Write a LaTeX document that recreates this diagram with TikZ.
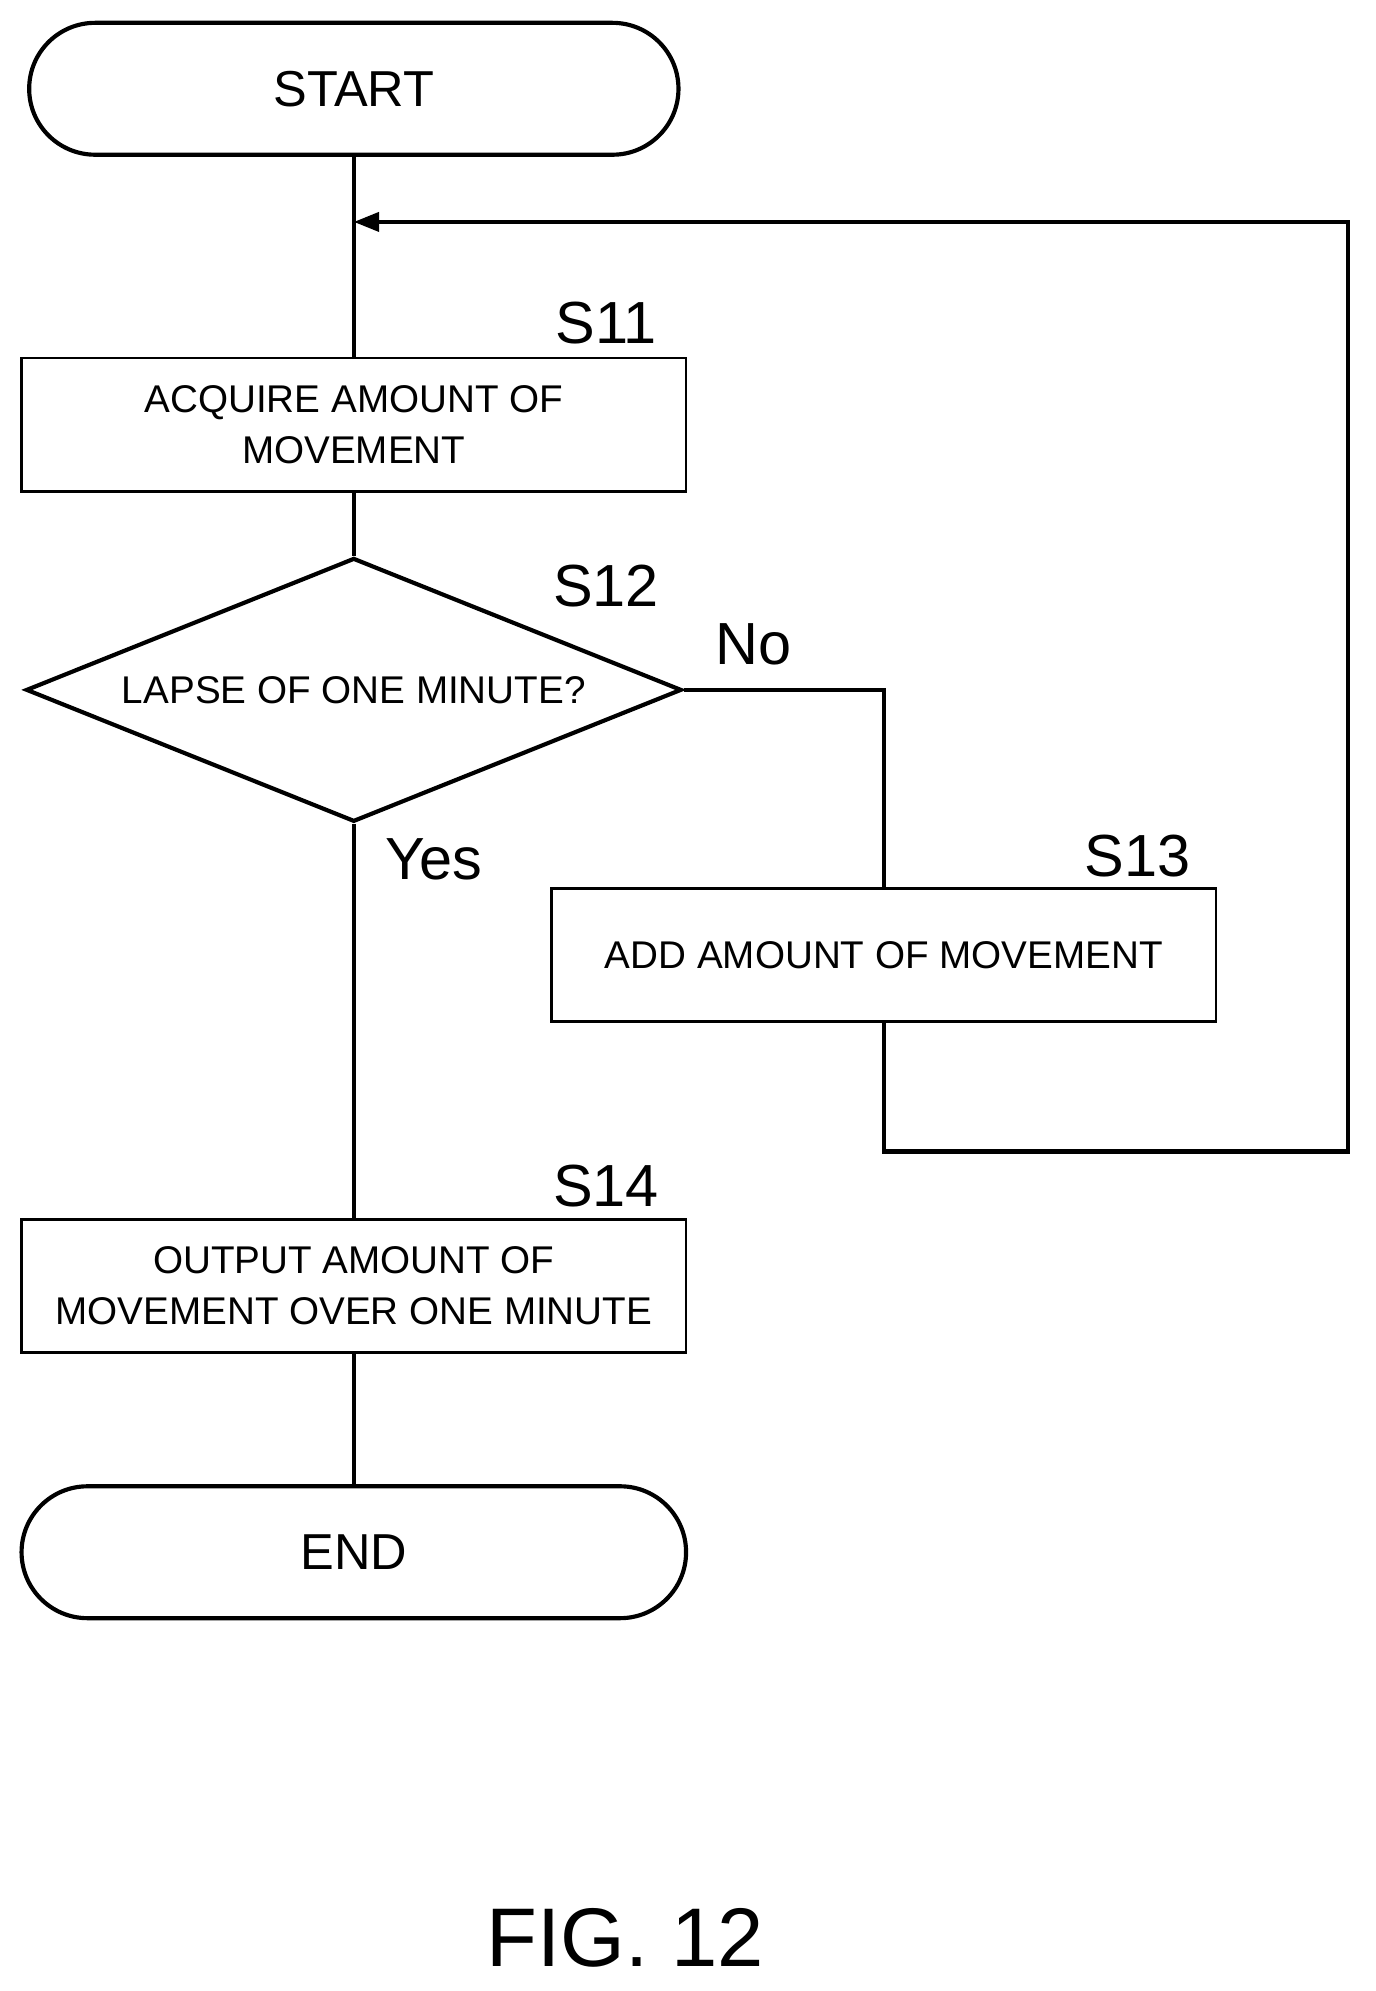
\documentclass[tikz,border=0pt]{standalone}
\usepackage{fontspec}
\setmainfont{Liberation Sans}
\usetikzlibrary{shapes.geometric,arrows.meta}
\begin{document}
\begin{tikzpicture}[x=0.03cm,y=-0.03cm,>={Triangle[length=0.6cm,width=0.45cm]},line width=2.8pt]
\tikzstyle{term}=[draw,rounded corners=52*0.03cm,minimum width=512*0.03cm,minimum height=104*0.03cm,font=\fontsize{34pt}{40pt}\selectfont]
\tikzstyle{proc}=[draw,line width=1.6pt,minimum width=524*0.03cm,minimum height=105*0.03cm,align=center,font=\fontsize{26pt}{34pt}\selectfont]
\tikzstyle{steplabel}=[font=\fontsize{40pt}{44pt}\selectfont]
\useasboundingbox (0,0) rectangle (1085,1570);

        \node[term] (start) at (279,70) {START};
        \node[proc] (s11) at (279,335) {ACQUIRE AMOUNT OF\\MOVEMENT};
        \node[steplabel] (l11) at (478,255) {S11};
        \node[draw,diamond,aspect=2.48,inner sep=0pt,minimum width=517*0.03cm,minimum height=208*0.03cm,
              font=\fontsize{26pt}{30pt}\selectfont] (s12) at (279,544) {LAPSE OF ONE MINUTE?};
        \node[steplabel] (l12) at (478,462) {S12};
        \node[steplabel] (no) at (594,508) {No};
        \node[steplabel] (yes) at (342,678) {Yes};
        \node[proc] (s13) at (697,753) {ADD AMOUNT OF MOVEMENT};
        \node[steplabel] (l13) at (897,675) {S13};
        \node[proc] (s14) at (279,1014) {OUTPUT AMOUNT OF\\MOVEMENT OVER ONE MINUTE};
        \node[steplabel] (l14) at (478,935) {S14};
        \node[term,minimum width=524*0.03cm] (end) at (279,1224) {END};
        \node[font=\fontsize{56pt}{60pt}\selectfont] (fig) at (493,1528) {FIG. 12};
        \coordinate (loop) at (279,175);

        \draw (start) -- (s11.north);
        \draw (s11) -- (s12);
        \draw (s12.south) -- (s14.north);
        \draw (s14) -- (end);
        \draw (s12.east) -| (s13.north);
        \draw[->] (s13.south) |- (1063,908) |- (loop);
\end{tikzpicture}
\end{document}
